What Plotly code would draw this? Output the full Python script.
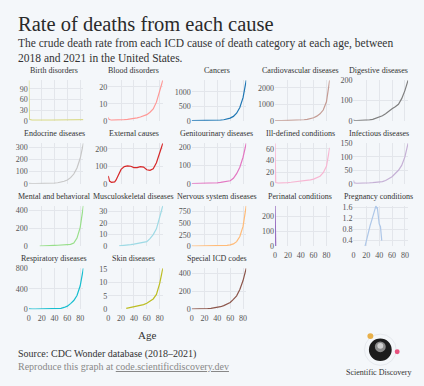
import plotly.graph_objects as go

W, H = 424, 386

# ---------------- data (rate per 100k) ----------------
causes = ["Birth disorders", "Blood disorders", "Cancers", "Cardiovascular diseases",
          "Digestive diseases", "Endocrine diseases", "External causes",
          "Genitourinary diseases", "Ill-defined conditions", "Infectious diseases",
          "Mental and behavioral", "Musculoskeletal diseases", "Nervous system diseases",
          "Perinatal conditions", "Pregnancy conditions", "Respiratory diseases",
          "Skin diseases", "Special ICD codes"]

std_ages = [0, 1, 5, 10, 15, 20, 25, 30, 35, 40, 45, 50, 55, 60, 65, 70, 75, 80, 85]

birth_rates = [115, 4, 1.5, 1.2, 1.3, 1.5, 1.6, 1.7, 1.8, 2, 2.2, 2.4, 2.6, 2.8, 3, 3.1, 3.2, 3.2, 3.3]
blood_rates = [2, 0.8, 0.3, 0.3, 0.4, 0.5, 0.6, 0.8, 1.0, 1.3, 1.7, 2.2, 2.8, 3.6, 5, 7, 11, 17, 24]
cancer_rates = [2, 2, 2.5, 2.2, 3, 4, 5, 7, 10, 14, 20, 34, 55, 90, 150, 260, 460, 800, 1410]
cardio_rates = [10, 3, 1, 1, 3, 6, 10, 16, 25, 40, 60, 85, 125, 180, 280, 420, 650, 1150, 2470]
digestive_rates = [5, 1, 1, 1, 1, 2, 4, 7, 12, 18, 25, 35, 50, 60, 70, 82, 110, 150, 202]
endocrine_rates = [2, 1, 1, 1, 1, 1.5, 2, 3, 4, 5, 8, 13, 20, 30, 50, 80, 130, 210, 335]
genito_ages = [0, 1, 17, 20, 25, 30, 35, 40, 45, 50, 55, 60, 65, 70, 75, 80, 85]
genito_rates = [1, 1, 1, 1.5, 2, 3, 4, 5, 7, 9, 12, 16, 30, 55, 90, 145, 222]
illdef_rates = [70, 2, 1, 1, 1.5, 2, 2.5, 3, 3.5, 4, 4.5, 5.5, 6.5, 8, 10, 13, 19, 30, 62]
infect_rates = [12, 3, 1, 1, 1, 2, 3, 4, 5, 6, 8, 12, 18, 26, 38, 50, 68, 100, 151]

external_ages = [0, 2, 5, 8, 10, 12, 15, 18, 20, 25, 30, 35, 40, 45, 50, 55, 60, 65, 70, 75, 80, 85]
external_rates = [45, 15, 8, 7, 10, 20, 45, 70, 82, 98, 102, 100, 92, 92, 98, 95, 80, 77, 85, 120, 170, 232]

mental_ages = [17, 20, 25, 30, 35, 40, 45, 50, 55, 60, 65, 70, 75, 80, 85]
mental_rates = [2, 4, 6, 8, 9, 10, 11, 12, 13, 15, 20, 35, 90, 210, 450]
musculo_ages = [17, 20, 25, 30, 35, 40, 45, 50, 55, 60, 65, 70, 75, 80, 85]
musculo_rates = [0.3, 0.4, 0.7, 1, 1.4, 1.8, 2.3, 3, 3.5, 4, 6.5, 10, 15, 24, 35]
nervous_rates = [10, 5, 3, 3, 3.5, 4, 4.5, 5, 6, 7, 9, 12, 18, 28, 50, 100, 210, 430, 880]
perinatal_ages = [0, 1]
perinatal_rates = [270, 1]
pregnancy_ages = [18, 20, 22, 24, 26, 28, 30, 32, 34, 35, 36, 37, 38, 40, 42, 43, 44]
pregnancy_rates = [0.2, 0.4, 0.6, 0.85, 0.95, 1.1, 1.25, 1.4, 1.6, 1.65, 1.55, 1.6, 1.4, 1.0, 0.9, 0.7, 0.4]
resp_rates = [5, 2, 1, 1, 1.5, 2, 2.5, 3, 4, 6, 10, 18, 35, 60, 110, 170, 270, 460, 805]
skin_ages = [28, 30, 35, 40, 45, 50, 55, 60, 65, 70, 75, 80, 85]
skin_rates = [0.3, 0.4, 0.6, 0.8, 1.0, 1.3, 1.7, 2.2, 3, 3.8, 5.5, 9.5, 15.2]
special_ages = [0, 1, 11, 15, 20, 25, 30, 35, 40, 45, 50, 55, 60, 65, 70, 75, 80, 85]
special_rates = [2, 2, 1, 2, 4, 6, 10, 14, 20, 28, 40, 55, 75, 110, 150, 220, 320, 458]

series = [
    (std_ages, birth_rates), (std_ages, blood_rates), (std_ages, cancer_rates),
    (std_ages, cardio_rates), (std_ages, digestive_rates), (std_ages, endocrine_rates),
    (external_ages, external_rates), (genito_ages, genito_rates), (std_ages, illdef_rates),
    (std_ages, infect_rates), (mental_ages, mental_rates), (musculo_ages, musculo_rates),
    (std_ages, nervous_rates), (perinatal_ages, perinatal_rates),
    (pregnancy_ages, pregnancy_rates), (std_ages, resp_rates), (skin_ages, skin_rates),
    (special_ages, special_rates),
]

y_dticks = [30, 10, 500, 1000, 100, 100, 100, 100, 20, 50, 200, 10, 250, 100, 0.4, 400, 5, 200]
x_tickvals = [0, 20, 40, 60, 80]

colors = ["#dbdb8d", "#ff9896", "#1f77b4", "#c49c94", "#7f7f7f", "#c7c7c7", "#d62728",
          "#e377c2", "#f7b6d2", "#c5b0d5", "#98df8a", "#9edae5", "#ffbb78", "#9467bd",
          "#aec7e8", "#17becf", "#bcbd22", "#8c564b"]

# ---------------- layout geometry (pixels) ----------------
col_x0 = [27, 107, 191, 275, 354]
plot_w = 55
row_top = [78, 142.5, 206.5, 270.5]
row_bot = [119.5, 184, 248, 312.5]

BG = "#f4f7fa"
GRID = "#e3e6eb"
FONT = "Liberation Serif"

def px(x):
    return x / W

def py(y):
    return 1 - y / H

fig = go.Figure()
annotations = []
layout_axes = {}

for k, name in enumerate(causes):
    r, c = divmod(k, 5)
    n = k + 1
    xs, ys = series[k]
    xa = "x" if n == 1 else f"x{n}"
    ya = "y" if n == 1 else f"y{n}"
    fig.add_trace(go.Scatter(x=xs, y=ys, mode="lines", xaxis=xa, yaxis=ya,
                             line=dict(color=colors[k], width=1.2),
                             showlegend=False, hoverinfo="x+y"))
    bottom = (r == 3) or (r == 2 and c >= 3)
    xkey = "xaxis" if n == 1 else f"xaxis{n}"
    ykey = "yaxis" if n == 1 else f"yaxis{n}"
    layout_axes[xkey] = dict(
        domain=[px(col_x0[c]), px(col_x0[c] + plot_w)], anchor=ya,
        range=[0, 85], tickvals=x_tickvals, showticklabels=bottom,
        showgrid=True, gridcolor=GRID, gridwidth=1, zeroline=False, showline=False,
        ticks="", ticklabelstandoff=3,
        tickfont=dict(family=FONT, size=8, color="#555"))
    lo = min(ys) if name == "Pregnancy conditions" else 0
    layout_axes[ykey] = dict(
        domain=[py(row_bot[r]), py(row_top[r])], anchor=xa,
        range=[lo, max(ys)], tick0=0, dtick=y_dticks[k],
        showgrid=True, gridcolor=GRID, gridwidth=1, zeroline=False, showline=False,
        ticks="", tickfont=dict(family=FONT, size=8, color="#555"))
    annotations.append(dict(
        text=name, xref="paper", yref="paper",
        x=px(col_x0[c] + plot_w / 2 - 2), y=py(row_top[r] - 3),
        xanchor="center", yanchor="bottom", showarrow=False,
        font=dict(family=FONT, size=8, color="#333")))

# Titles and notes
annotations += [
    dict(text="Rate of deaths from each cause", xref="paper", yref="paper",
         x=px(14), y=py(20), xanchor="left", yanchor="middle", showarrow=False,
         font=dict(family=FONT, size=20.5, color="#2a2a2a")),
    dict(text="The crude death rate from each ICD cause of death category at each age, between<br>2018 and 2021 in the United States.",
         xref="paper", yref="paper", x=px(14), y=py(32), xanchor="left", yanchor="top",
         align="left", showarrow=False,
         font=dict(family=FONT, size=11.5, color="#333")),
    dict(text="Age", xref="paper", yref="paper", x=px(146), y=py(339),
         xanchor="center", yanchor="middle", showarrow=False,
         font=dict(family=FONT, size=11, color="#333")),
    dict(text="Source: CDC Wonder database (2018–2021)", xref="paper", yref="paper",
         x=px(14), y=py(358), xanchor="left", yanchor="middle", showarrow=False,
         font=dict(family=FONT, size=10, color="#333")),
    dict(text="Reproduce this graph at <u>code.scientificdiscovery.dev</u>", xref="paper", yref="paper",
         x=px(14), y=py(371), xanchor="left", yanchor="middle", showarrow=False,
         font=dict(family=FONT, size=10, color="#888")),
    dict(text="Scientific Discovery", xref="paper", yref="paper",
         x=px(380), y=py(377), xanchor="center", yanchor="middle", showarrow=False,
         font=dict(family=FONT, size=8, color="#333")),
]

def circle(cx, cy, rad, fill, line_color=None, lw=0):
    return dict(type="circle", xref="paper", yref="paper",
                x0=px(cx - rad), x1=px(cx + rad), y0=py(cy + rad), y1=py(cy - rad),
                fillcolor=fill, line=dict(color=line_color or fill, width=lw), layer="above")

shapes = [
    circle(381, 354, 16, "rgba(0,0,0,0)", "#e6e9ee", 1),
    circle(381, 354, 11.5, "#1c1c1c"),
    circle(381, 351, 5.5, "#8a8a8a"),
    circle(381, 350, 3, "#cfcfcf"),
    circle(371, 340, 3, "#e8b04a"),
    circle(398, 356, 2.5, "#e8527e"),
]

fig.update_layout(
    width=W, height=H, autosize=False,
    margin=dict(l=0, r=0, t=0, b=0),
    paper_bgcolor=BG, plot_bgcolor=BG,
    annotations=annotations, shapes=shapes,
    font=dict(family=FONT),
    **layout_axes,
)

fig.write_html("out.html", config={"displayModeBar": False},
               post_script="document.body.style.margin='0';document.body.style.overflow='hidden';")
